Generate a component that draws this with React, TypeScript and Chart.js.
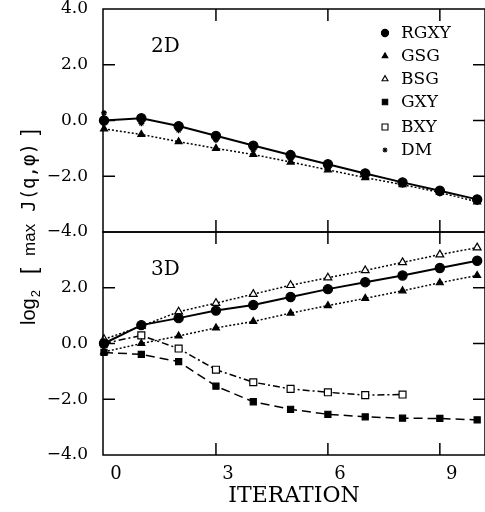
import { useEffect, useRef } from 'react';
import { Chart, registerables } from 'chart.js';
import { drawPoint } from 'chart.js/helpers';

Chart.register(...registerables);

// ---------- data ----------
const iterations = [0, 1, 2, 3, 4, 5, 6, 7, 8, 9, 10];
const xTickValues = [0, 3, 6, 9];
const yTickValues = [-4, -2, 0, 2, 4];

// 2D panel
const rgxy2D = [0.0, 0.08, -0.2, -0.55, -0.9, -1.24, -1.57, -1.9, -2.22, -2.52, -2.83];
const gsg2D = [-0.3, -0.5, -0.76, -1.0, -1.22, -1.49, -1.77, -2.05, -2.3, -2.58, -2.92];
const dm2D = [0.27, -0.1, -0.35, -0.7, -1.05, -1.4, -1.72, -2.0, -2.3, -2.62, -2.92];

// 3D panel
const rgxy3D = [0.0, 0.66, 0.91, 1.18, 1.38, 1.67, 1.95, 2.2, 2.44, 2.71, 2.97];
const gsg3D = [-0.3, 0.0, 0.27, 0.56, 0.79, 1.09, 1.36, 1.62, 1.89, 2.18, 2.44];
const bsg3D = [0.15, 0.62, 1.14, 1.45, 1.77, 2.09, 2.36, 2.62, 2.91, 3.19, 3.44];
const gxy3D = [-0.32, -0.39, -0.65, -1.53, -2.09, -2.36, -2.54, -2.63, -2.68, -2.69, -2.74];
const bxy3D = [0.0, 0.29, -0.18, -0.94, -1.39, -1.63, -1.75, -1.85, -1.83];

const legendLabels = ['RGXY', 'GSG', 'BSG', 'GXY', 'BXY', 'DM'];
const panelLabels = ['2D', '3D'];
const xTitle = 'ITERATION';

// ---------- styles ----------
type MStyle = {
  pointStyle: string;
  radius: number;
  legendRadius: number;
  fill: string;
  dash: number[];
  lineWidth: number;
  showLine: boolean;
};
const methodStyle: Record<string, MStyle> = {
  RGXY: { pointStyle: 'circle', radius: 4.6, legendRadius: 3.6, fill: '#000', dash: [], lineWidth: 2, showLine: true },
  GSG: { pointStyle: 'triangle', radius: 4, legendRadius: 3.2, fill: '#000', dash: [2, 2], lineWidth: 1.5, showLine: true },
  BSG: { pointStyle: 'triangle', radius: 4.5, legendRadius: 3.4, fill: '#fff', dash: [2, 2], lineWidth: 1.5, showLine: true },
  GXY: { pointStyle: 'rect', radius: 4.3, legendRadius: 3.8, fill: '#000', dash: [9, 5], lineWidth: 1.5, showLine: true },
  BXY: { pointStyle: 'rect', radius: 4.9, legendRadius: 4.2, fill: '#fff', dash: [7, 3, 2, 3], lineWidth: 1.5, showLine: true },
  DM: { pointStyle: 'star', radius: 3, legendRadius: 2.5, fill: '#000', dash: [], lineWidth: 1, showLine: false },
};

const SERIF = '"DejaVu Serif", serif';
const SANS = '"Liberation Sans", Arial, sans-serif';

function makeDataset(method: string, axis: string, values: number[]) {
  const s = methodStyle[method];
  return {
    label: method,
    yAxisID: axis,
    data: values.map((v, i) => ({ x: iterations[i], y: v })),
    borderColor: '#000',
    backgroundColor: s.fill,
    borderWidth: s.lineWidth,
    borderDash: s.dash,
    pointStyle: s.pointStyle,
    pointRadius: s.radius,
    pointBackgroundColor: s.fill,
    pointBorderColor: '#000',
    pointBorderWidth: method === 'DM' ? 1.3 : 1.2,
    showLine: s.showLine,
    tension: 0,
    fill: false,
    clip: 8,
  };
}

const fmtY = (v: number) => (v < 0 ? '\u2212' : '') + Math.abs(v).toFixed(1);

const TICK_LEN = 12;

const framePlugin = {
  id: 'frameTicks',
  afterDraw(chart: any) {
    const ctx = chart.ctx as CanvasRenderingContext2D;
    const { left, right } = chart.chartArea;
    const xs = chart.scales.x;
    ctx.save();
    ctx.strokeStyle = '#000';
    ctx.lineWidth = 1.5;
    ctx.setLineDash([]);
    const line = (x1: number, y1: number, x2: number, y2: number) => {
      ctx.beginPath();
      ctx.moveTo(x1, y1);
      ctx.lineTo(x2, y2);
      ctx.stroke();
    };
    for (const id of ['yTop', 'yBot']) {
      const ys = chart.scales[id];
      ctx.strokeRect(left, ys.top, right - left, ys.bottom - ys.top);
      for (const v of yTickValues) {
        if (v === ys.min || v === ys.max) continue;
        const py = ys.getPixelForValue(v);
        line(left, py, left + TICK_LEN, py);
        line(right - TICK_LEN, py, right, py);
      }
      for (const v of xTickValues) {
        const px = xs.getPixelForValue(v);
        if (px - left < 4) continue;
        line(px, ys.top, px, ys.top + TICK_LEN);
        line(px, ys.bottom - TICK_LEN, px, ys.bottom);
      }
    }
    ctx.restore();
  },
};

const annotPlugin = {
  id: 'annotations',
  afterDraw(chart: any) {
    const ctx = chart.ctx as CanvasRenderingContext2D;
    const { left, right, top, bottom } = chart.chartArea;
    ctx.save();
    ctx.fillStyle = '#000';
    ctx.strokeStyle = '#000';
    // panel labels
    ctx.font = `20px ${SERIF}`;
    ctx.textBaseline = 'middle';
    ctx.textAlign = 'left';
    const panels = [chart.scales.yTop, chart.scales.yBot];
    panelLabels.forEach((t, i) => {
      ctx.fillText(t, left + 48, panels[i].top + 38);
    });
    // legend
    legendLabels.forEach((name, i) => {
      const s = methodStyle[name];
      const y = top + 24 + i * 23 + (i >= 4 ? 2 : 0);
      ctx.fillStyle = s.fill;
      ctx.strokeStyle = '#000';
      ctx.lineWidth = 1.1;
      ctx.setLineDash([]);
      drawPoint(ctx, { pointStyle: s.pointStyle as any, radius: s.legendRadius, rotation: 0, borderWidth: 1.1 }, right - 100, y);
      ctx.fillStyle = '#000';
      ctx.font = `17px ${SERIF}`;
      ctx.textAlign = 'left';
      ctx.textBaseline = 'middle';
      ctx.fillText(name, right - 84, y + 1);
    });
    // y-axis title (rotated)
    const cx = 29;
    const cy = (top + bottom) / 2 - 5;
    ctx.translate(cx, cy);
    ctx.rotate(-Math.PI / 2);
    const pieces: { t: string; font: string; dy: number; gap: number }[] = [
      { t: 'log', font: `20px ${SANS}`, dy: 0, gap: 0 },
      { t: '2', font: `13px ${SANS}`, dy: 5, gap: 1 },
      { t: '[', font: `22px ${SANS}`, dy: 1, gap: 16 },
      { t: 'max', font: `17px ${SANS}`, dy: 0, gap: 12 },
      { t: 'J(q,\u03c6)', font: `19px "DejaVu Sans Mono", monospace`, dy: 0, gap: 12 },
      { t: ']', font: `22px ${SANS}`, dy: 1, gap: 8 },
    ];
    let total = 0;
    for (const p of pieces) {
      ctx.font = p.font;
      total += p.gap + ctx.measureText(p.t).width;
    }
    let x = -total / 2;
    ctx.textAlign = 'left';
    ctx.textBaseline = 'alphabetic';
    for (const p of pieces) {
      ctx.font = p.font;
      x += p.gap;
      ctx.fillText(p.t, x, 6 + p.dy);
      x += ctx.measureText(p.t).width;
    }
    ctx.restore();
  },
};

const zeroPadY = (s: any) => {
  s.width = 103;
  s.paddingTop = 0;
  s.paddingBottom = 0;
  s.paddingLeft = 0;
  s.paddingRight = 0;
};

export default function App() {
  const ref = useRef<HTMLCanvasElement | null>(null);
  useEffect(() => {
    if (!ref.current) return;
    const chart = new Chart(ref.current, {
      type: 'line',
      data: {
        datasets: [
          makeDataset('RGXY', 'yTop', rgxy2D),
          makeDataset('DM', 'yTop', dm2D),
          makeDataset('GSG', 'yTop', gsg2D),
          makeDataset('RGXY', 'yBot', rgxy3D),
          makeDataset('GSG', 'yBot', gsg3D),
          makeDataset('BSG', 'yBot', bsg3D),
          makeDataset('GXY', 'yBot', gxy3D),
          makeDataset('BXY', 'yBot', bxy3D),
        ] as any,
      },
      options: {
        responsive: false,
        animation: false,
        layout: { autoPadding: false, padding: { top: 9, left: 0, right: -2, bottom: 0 } },
        plugins: {
          legend: { display: false },
          tooltip: { enabled: false },
          title: { display: false },
        },
        scales: {
          x: {
            type: 'linear',
            position: 'bottom',
            min: -0.027,
            max: 10.21,
            grid: { display: false, drawTicks: false },
            border: { display: false },
            afterBuildTicks: (s: any) => {
              s.ticks = xTickValues.map((v) => ({ value: v }));
            },
            afterFit: (s: any) => {
              s.height = 57;
              s.paddingLeft = 0;
              s.paddingRight = 0;
              s.paddingTop = 0;
              s.paddingBottom = 0;
            },
            ticks: {
              padding: 9,
              labelOffset: 12,
              color: '#000',
              autoSkip: false,
              maxRotation: 0,
              font: { family: SERIF, size: 18 },
              callback: (v: any) => String(v),
            },
            title: {
              display: true,
              text: xTitle,
              color: '#000',
              font: { family: SERIF, size: 22 },
              padding: { top: 0, bottom: 3 },
            },
          },
          yBot: {
            type: 'linear',
            position: 'left',
            stack: 'panels',
            stackWeight: 1,
            weight: 0,
            min: -4,
            max: 4,
            grid: { display: false, drawTicks: false },
            border: { display: false },
            afterBuildTicks: (s: any) => {
              s.ticks = yTickValues.map((v) => ({ value: v }));
            },
            afterFit: zeroPadY,
            ticks: {
              padding: 15,
              color: '#000',
              font: { family: SERIF, size: 17 },
              callback: (v: any) => (v === 4 ? '' : fmtY(Number(v))),
            },
          },
          yTop: {
            type: 'linear',
            position: 'left',
            stack: 'panels',
            stackWeight: 1,
            weight: 1,
            min: -4,
            max: 4,
            grid: { display: false, drawTicks: false },
            border: { display: false },
            afterBuildTicks: (s: any) => {
              s.ticks = yTickValues.map((v) => ({ value: v }));
            },
            afterFit: zeroPadY,
            ticks: {
              padding: 15,
              color: '#000',
              font: { family: SERIF, size: 17 },
              callback: (v: any) => fmtY(Number(v)),
            },
          },
        } as any,
      },
      plugins: [framePlugin, annotPlugin],
    });
    return () => chart.destroy();
  }, []);
  return (
    <div style={{ position: 'absolute', left: 0, top: 0, width: 485, height: 512, background: '#fff' }}>
      <canvas ref={ref} width={485} height={512} />
    </div>
  );
}
